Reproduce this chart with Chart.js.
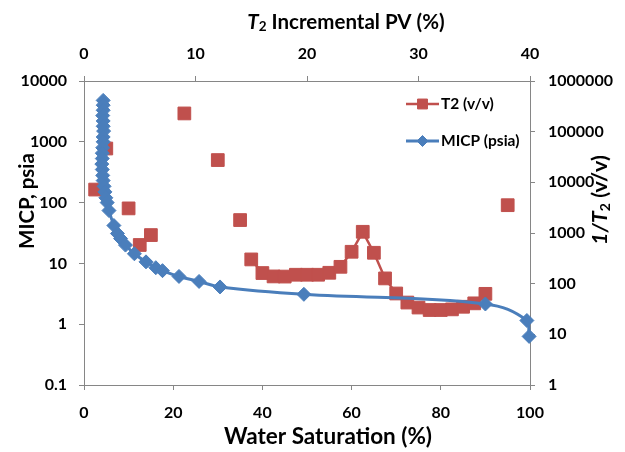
<!DOCTYPE html>
<html>
<head>
<meta charset="utf-8">
<script src="https://cdn.jsdelivr.net/npm/chart.js@4.4.1/dist/chart.umd.min.js"></script>
<style>
  html, body { margin: 0; padding: 0; background: #fff; }
  #wrap { width: 625px; height: 452px; }
</style>
</head>
<body>
<div id="wrap"><canvas id="chart" width="625" height="452"></canvas></div>
<script>
// MICP curve: water saturation (%) vs. capillary pressure (psia)
const micpSw = [4.3, 4.3, 4.3, 4.2, 4.3, 4.3, 4.4, 4.3, 4.3, 4.2, 4.1, 4.1, 4.0, 4.1, 4.2, 4.3, 4.5, 4.7, 4.9, 5.2,
                5.6, 6.7, 7.5, 8.2, 9.3, 11.3, 13.9, 16.1, 17.6, 21.3, 25.8, 30.5, 49.3, 90.0, 99.3, 99.8];
const micpPsia = [4800, 4000, 3300, 2700, 2200, 1800, 1500, 1200, 1000, 800, 650, 530, 430, 350, 280, 230, 185, 150, 120, 100,
                  74, 42, 31, 25.6, 20, 14.4, 10.6, 8.5, 7.6, 6.1, 5.05, 4.1, 3.1, 2.15, 1.15, 0.63];

// T2 distribution: incremental PV (%) vs. 1/T2 (v/v)
const t2PV = [1, 2, 4, 5, 6, 9, 12, 14,
              15, 16, 17, 18, 19, 20, 21, 22, 23, 24, 25, 26, 27, 28, 29, 30, 31, 32, 33, 34, 35, 36,
              38];
const t2Inv = [7200, 46500, 3060, 580, 910, 229000, 27500, 1800,
               301, 162, 139, 138, 150, 150, 150, 164, 215, 426, 1056, 407, 127, 64, 42.4, 33.8, 30.2, 30.2, 31.1, 35, 40.9, 63,
               3540];
// points sharing a run number are joined by the line
const t2Run = [0, 1, 2, 3, 4, 5, 6, 7,
               8, 8, 8, 8, 8, 8, 8, 8, 8, 8, 8, 8, 8, 8, 8, 8, 8, 8, 8, 8, 8, 8,
               9];

const swTicks = [0, 20, 40, 60, 80, 100];
const pvTicks = [0, 10, 20, 30, 40];
const psiaTicks = [0.1, 1, 10, 100, 1000, 10000];
const invTicks = [1, 10, 100, 1000, 10000, 100000, 1000000];

const FONT = 'Lato, "Open Sans", sans-serif';
const BLUE = '#4a7ebb';
const RED = '#c0504d';
const GREY = '#868686';

const micpData = micpSw.map((x, i) => ({ x: x, y: micpPsia[i] }));
const t2Data = [];
t2PV.forEach((x, i) => {
    if (i > 0 && t2Run[i] !== t2Run[i - 1]) t2Data.push({ x: null, y: null }); // break the line
    t2Data.push({ x: x, y: t2Inv[i] });
});

function axis(position, type, min, max, ticks, size) {
    return {
        type: type,
        position: position,
        min: min,
        max: max,
        afterBuildTicks: (scale) => { scale.ticks = ticks.map((v) => ({ value: v })); },
        afterFit: (scale) => {
            if (position === 'left' || position === 'right') scale.width = size;
            else scale.height = size;
        },
        grid: { drawOnChartArea: false, drawTicks: true, tickLength: 5, color: GREY },
        border: { display: true, color: GREY, width: 1 },
        ticks: {
            color: '#000',
            font: { family: FONT, size: 16, weight: 'bold' },
            padding: position === 'left' ? 12 : 13,
            maxRotation: 0,
            autoSkip: false,
            callback: (v) => String(v),
        },
    };
}

// rich text helper (italic T with subscript 2)
function drawParts(ctx, parts, x, y, angle) {
    ctx.save();
    ctx.translate(x, y);
    ctx.rotate(angle);
    ctx.textBaseline = 'middle';
    ctx.textAlign = 'left';
    ctx.fillStyle = '#000';
    let total = 0;
    parts.forEach((p) => { ctx.font = p.font; p.w = ctx.measureText(p.text).width; total += p.w; });
    let cx = -total / 2;
    parts.forEach((p) => { ctx.font = p.font; ctx.fillText(p.text, cx, p.dy || 0); cx += p.w; });
    ctx.restore();
}

const bold = (px) => 'bold ' + px + 'px ' + FONT;
const italic = (px) => 'italic bold ' + px + 'px ' + FONT;

const titlesPlugin = {
    id: 'titles',
    afterDraw(chart) {
        const ctx = chart.ctx;
        drawParts(ctx, [{ text: 'Water Saturation (%)', font: bold(22.5) }], 328, 437, 0);
        drawParts(ctx, [{ text: 'MICP, psia', font: bold(20.5) }], 27, 201, -Math.PI / 2);
        drawParts(ctx, [
            { text: 'T', font: italic(20.5) },
            { text: '2', font: bold(13.5), dy: 5 },
            { text: ' Incremental PV (%)', font: bold(20.5) },
        ], 346, 22, 0);
        drawParts(ctx, [
            { text: '1/', font: italic(21.5) },
            { text: 'T', font: italic(21.5) },
            { text: '2', font: bold(14), dy: 5 },
            { text: ' (v/v)', font: bold(21.5) },
        ], 600, 200, -Math.PI / 2);
    },
};

const legendPlugin = {
    id: 'boxLegend',
    afterDraw(chart) {
        const ctx = chart.ctx;
        const items = [
            { label: 'T2 (v/v)', color: RED, style: 'rect', radius: 7, lw: 2.5, y: 104 },
            { label: 'MICP (psia)', color: BLUE, style: 'rectRot', radius: 5.5, lw: 3, y: 141 },
        ];
        items.forEach((it) => {
            ctx.save();
            ctx.strokeStyle = it.color;
            ctx.fillStyle = it.color;
            ctx.lineWidth = it.lw;
            ctx.beginPath();
            ctx.moveTo(406, it.y);
            ctx.lineTo(439, it.y);
            ctx.stroke();
            ctx.lineWidth = 1;
            Chart.helpers.drawPoint(ctx, { pointStyle: it.style, radius: it.radius, rotation: 0, borderWidth: 1 }, 422.5, it.y);
            ctx.fillStyle = '#000';
            ctx.font = bold(15.5);
            ctx.textBaseline = 'middle';
            ctx.textAlign = 'left';
            ctx.fillText(it.label, 441, it.y);
            ctx.restore();
        });
    },
};

const ctx = document.getElementById('chart').getContext('2d');
const chart = new Chart(ctx, {
    type: 'scatter',
    data: {
        datasets: [
            {
                label: 'T2 (v/v)',
                data: t2Data,
                xAxisID: 'x2',
                yAxisID: 'y2',
                showLine: true,
                spanGaps: false,
                borderColor: RED,
                backgroundColor: RED,
                borderWidth: 2.5,
                pointStyle: 'rect',
                pointRadius: 9,
                pointBorderWidth: 1,
                pointBorderColor: RED,
                pointBackgroundColor: RED,
                tension: 0,
                clip: false,
                order: 1,
            },
            {
                label: 'MICP (psia)',
                data: micpData,
                xAxisID: 'x',
                yAxisID: 'y',
                showLine: true,
                borderColor: BLUE,
                backgroundColor: BLUE,
                borderWidth: 3,
                pointStyle: 'rectRot',
                pointRadius: 7,
                pointBorderWidth: 1,
                pointBorderColor: BLUE,
                pointBackgroundColor: BLUE,
                tension: 0.4,
                clip: false,
                order: 0,
            },
        ],
    },
    options: {
        responsive: false,
        animation: false,
        events: [],
        layout: { padding: 0 },
        plugins: {
            legend: { display: false },
            tooltip: { enabled: false },
        },
        scales: {
            x: axis('bottom', 'linear', 0, 100, swTicks, 67),
            x2: axis('top', 'linear', 0, 40, pvTicks, 81),
            y: axis('left', 'logarithmic', 0.1, 10000, psiaTicks, 84),
            y2: axis('right', 'logarithmic', 1, 1000000, invTicks, 95),
        },
    },
    plugins: [titlesPlugin, legendPlugin],
});
</script>
</body>
</html>
